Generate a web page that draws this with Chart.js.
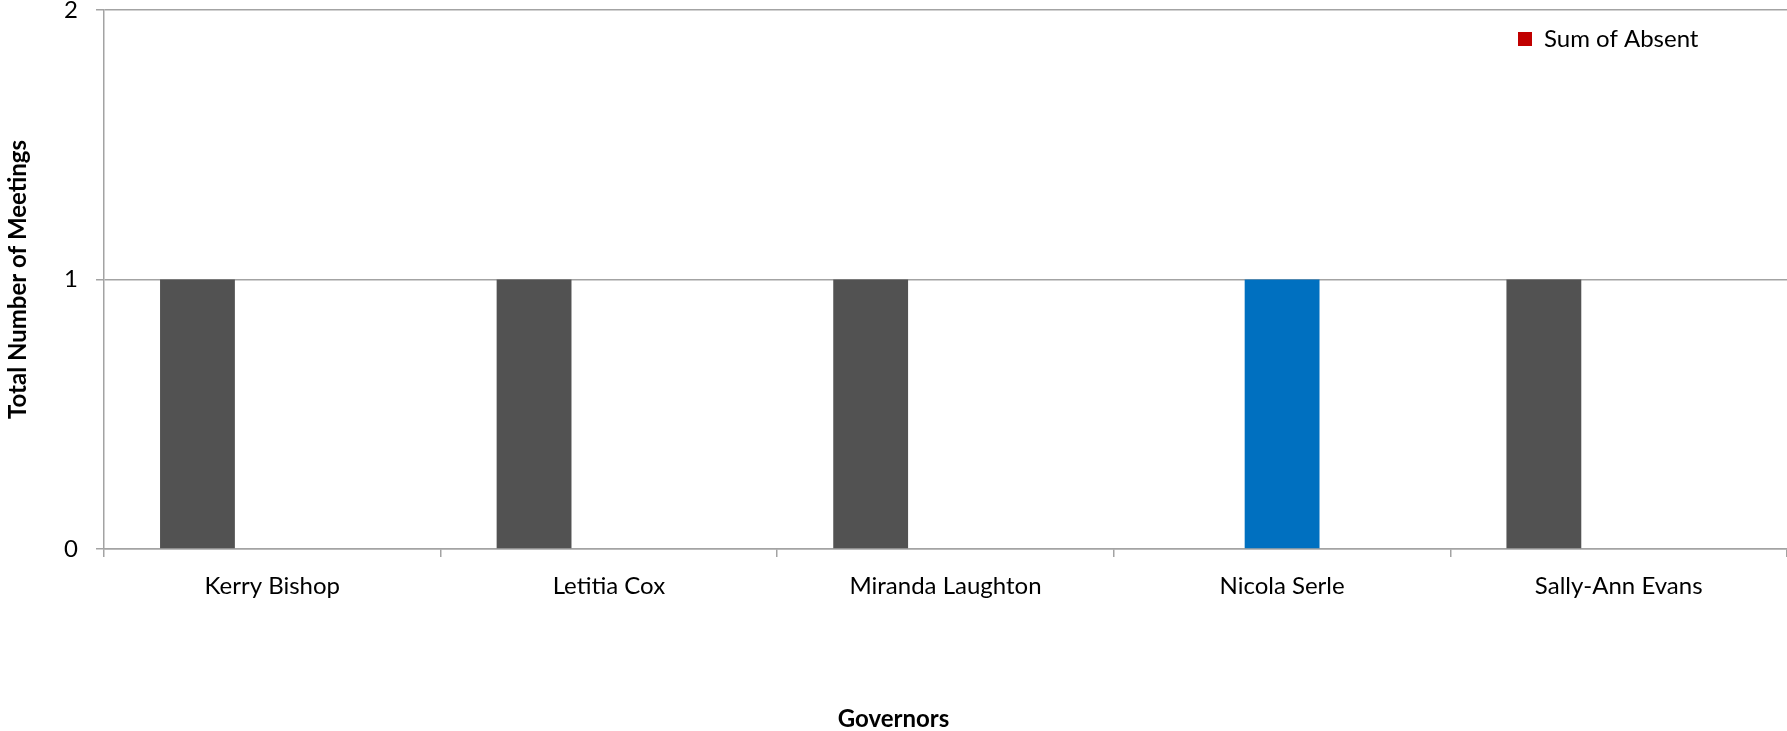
<!DOCTYPE html>
<html lang="en">
<head>
  <meta charset="UTF-8">
  <title>Governors Attendance</title>
  <script src="https://cdn.jsdelivr.net/npm/chart.js"></script>
  <style>
    html, body { margin: 0; padding: 0; background: #fff; }
    #wrap { width: 1787px; height: 731px; }
  </style>
</head>
<body>
  <div id="wrap"><canvas id="chart" width="1787" height="731"></canvas></div>
  <script>
    const governors = ['Kerry Bishop', 'Letitia Cox', 'Miranda Laughton', 'Nicola Serle', 'Sally-Ann Evans'];
    const sumAttended = [1, 1, 1, 0, 1];
    const sumApologies = [0, 0, 0, 1, 0];
    const sumAbsent = [0, 0, 0, 0, 0];
    const yTicks = [0, 1, 2];

    const gridGrey = '#a3a3a3';
    const font = 'Lato, "Open Sans", sans-serif';

    // put the legend inside the plot, top right
    const legendSpot = {
      id: 'legendSpot',
      afterLayout(chart) {
        const lg = chart.legend;
        lg.left = 1508;
        lg.top = 17;
      }
    };

    new Chart(document.getElementById('chart'), {
      type: 'bar',
      data: {
        labels: governors,
        datasets: [
          { label: 'Sum of Attended', data: sumAttended, backgroundColor: '#525252' },
          { label: 'Sum of Apologies', data: sumApologies, backgroundColor: '#0070c0' },
          { label: 'Sum of Absent', data: sumAbsent, backgroundColor: '#c00000' }
        ]
      },
      options: {
        responsive: false,
        animation: false,
        layout: { padding: { top: 10, left: 0, right: 0, bottom: 0 } },
        datasets: { bar: { categoryPercentage: 0.667, barPercentage: 1 } },
        plugins: {
          tooltip: { enabled: false },
          legend: {
            position: 'chartArea',
            align: 'start',
            labels: {
              font: { family: font, size: 24 },
              color: '#000',
              boxWidth: 14,
              boxHeight: 14,
              padding: 10,
              filter: item => item.text === 'Sum of Absent'
            }
          },
          // x axis title, centred on the whole canvas like the original
          title: {
            display: true,
            position: 'bottom',
            text: 'Governors',
            color: '#000',
            font: { family: font, size: 24, weight: 'bold', lineHeight: 1 },
            padding: { top: 0, bottom: 0 }
          }
        },
        scales: {
          x: {
            grid: { drawOnChartArea: false, drawTicks: true, tickLength: 8, color: gridGrey, lineWidth: 1.5 },
            border: { color: gridGrey, width: 1.5 },
            ticks: { font: { family: font, size: 24 }, color: '#000', padding: 15, maxRotation: 0 },
            afterFit(scale) { scale.height = 158; }
          },
          y: {
            min: 0,
            max: 2,
            afterBuildTicks(scale) { scale.ticks = yTicks.map(v => ({ value: v })); },
            grid: { color: gridGrey, lineWidth: 1.5, tickLength: 8 },
            border: { color: gridGrey, width: 1.5 },
            ticks: { font: { family: font, size: 24 }, color: '#000', padding: 18 },
            title: { display: true, text: 'Total Number of Meetings', font: { family: font, size: 24, weight: 'bold' }, color: '#000', padding: { top: 4, bottom: 0 } },
            afterFit(scale) {
              scale.width = 104;
              scale.paddingTop = 0;
              scale.paddingBottom = 0;
            }
          }
        }
      },
      plugins: [legendSpot]
    });
  </script>
</body>
</html>
